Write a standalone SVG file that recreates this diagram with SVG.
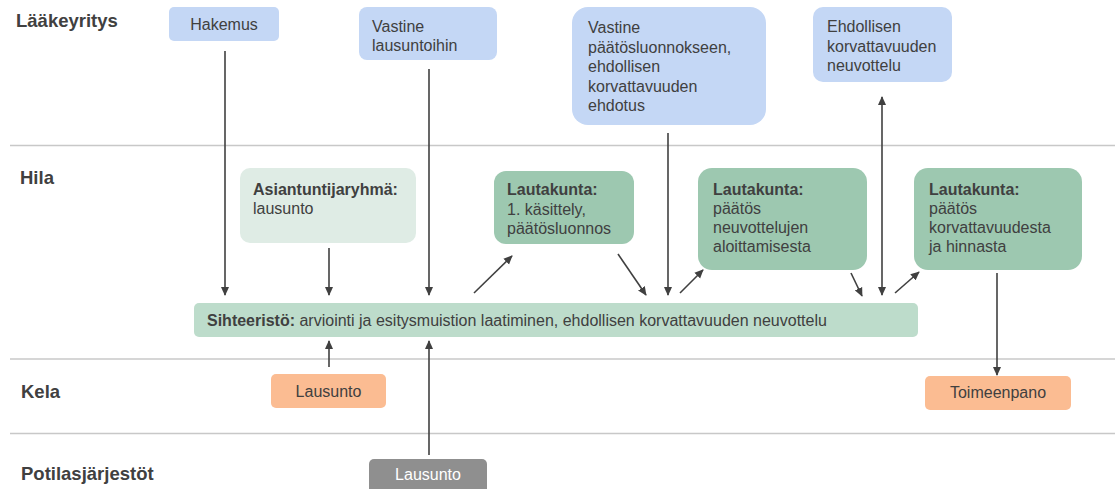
<svg xmlns="http://www.w3.org/2000/svg" width="1115" height="489" viewBox="0 0 1115 489">
<defs>
<style>
text{font-family:"Liberation Sans",Arial,sans-serif;font-size:16px;fill:#404040}
.lane{font-size:18.5px;font-weight:bold}
.b{font-weight:bold}
.mid{text-anchor:middle}
.sep{stroke:#c8c8c8;stroke-width:1.6;fill:none}
.blue{fill:#c4d7f5}
.lgreen{fill:#dfece5}
.green{fill:#9dc8b0}
.sih{fill:#bddccb}
.orange{fill:#fbbc92}
.gray{fill:#8f8f8f}
.white{fill:#ffffff}
.c{stroke:#404040;stroke-width:1.6;fill:none;marker-end:url(#ah)}
</style>
<marker id="ah" viewBox="0 0 10 10" refX="9" refY="5" markerWidth="9" markerHeight="9" markerUnits="userSpaceOnUse" orient="auto-start-reverse">
<path d="M0,0.5 L10,5 L0,9.5 z" fill="#404040"/>
</marker>
</defs>
<rect width="1115" height="489" fill="#ffffff"/>
<g id="lanes">
<line class="sep" x1="10" y1="145.5" x2="1115" y2="145.5"/>
<line class="sep" x1="10" y1="359" x2="1115" y2="359"/>
<line class="sep" x1="10" y1="433.5" x2="1115" y2="433.5"/>
<text class="lane" x="16" y="27">Lääkeyritys</text>
<text class="lane" x="20" y="184">Hila</text>
<text class="lane" x="21" y="398">Kela</text>
<text class="lane" x="21" y="480">Potilasjärjestöt</text>
</g>
<g id="connectors">
<line class="c" x1="225" y1="51" x2="225" y2="295"/>
<line class="c" x1="329" y1="248" x2="329" y2="295"/>
<line class="c" x1="429" y1="69" x2="429" y2="295"/>
<line class="c" x1="474" y1="293" x2="512" y2="256"/>
<line class="c" x1="618" y1="254" x2="646" y2="295"/>
<line class="c" x1="668" y1="133" x2="668" y2="295"/>
<line class="c" x1="680" y1="293" x2="703" y2="270"/>
<line class="c" x1="851" y1="273" x2="862" y2="296"/>
<line class="c" x1="882" y1="97" x2="882" y2="295" style="marker-start:url(#ah)"/>
<line class="c" x1="895" y1="293" x2="919" y2="272"/>
<line class="c" x1="997" y1="273" x2="997" y2="375"/>
<line class="c" x1="329" y1="367" x2="329" y2="341"/>
<line class="c" x1="429" y1="455" x2="429" y2="341"/>
</g>
<g id="hakemus">
<rect class="blue" x="169" y="7" width="110" height="34" rx="5"/>
<text class="mid" x="224" y="30">Hakemus</text>
</g>
<g id="vastine-lausuntoihin">
<rect class="blue" x="359" y="7" width="138" height="53" rx="8"/>
<text x="372" y="32">Vastine</text>
<text x="372" y="51">lausuntoihin</text>
</g>
<g id="vastine-paatosluonnokseen">
<rect class="blue" x="572" y="7" width="194" height="118" rx="16"/>
<text x="588" y="33">Vastine</text>
<text x="588" y="52.5">päätösluonnokseen,</text>
<text x="588" y="72">ehdollisen</text>
<text x="588" y="91.5">korvattavuuden</text>
<text x="588" y="111">ehdotus</text>
</g>
<g id="ehdollisen-neuvottelu">
<rect class="blue" x="813" y="7" width="139" height="75" rx="10"/>
<text x="827" y="32">Ehdollisen</text>
<text x="827" y="51.5">korvattavuuden</text>
<text x="827" y="71">neuvottelu</text>
</g>
<g id="asiantuntijaryhma">
<rect class="lgreen" x="240" y="168" width="176" height="75" rx="10"/>
<text class="b" x="253" y="195">Asiantuntijaryhmä:</text>
<text x="253" y="214">lausunto</text>
</g>
<g id="lautakunta-1">
<rect class="green" x="494" y="171" width="140" height="73" rx="12"/>
<text class="b" x="507" y="195">Lautakunta:</text>
<text x="507" y="214.5">1. käsittely,</text>
<text x="507" y="234">päätösluonnos</text>
</g>
<g id="lautakunta-2">
<rect class="green" x="698" y="168" width="169" height="102" rx="14"/>
<text class="b" x="713" y="195">Lautakunta:</text>
<text x="713" y="214">päätös</text>
<text x="713" y="233">neuvottelujen</text>
<text x="713" y="252">aloittamisesta</text>
</g>
<g id="lautakunta-3">
<rect class="green" x="914" y="168" width="168" height="102" rx="14"/>
<text class="b" x="929" y="195">Lautakunta:</text>
<text x="929" y="214">päätös</text>
<text x="929" y="233">korvattavuudesta</text>
<text x="929" y="252">ja hinnasta</text>
</g>
<g id="sihteeristo">
<rect class="sih" x="194" y="303" width="724" height="34" rx="5"/>
<text x="207" y="326"><tspan class="b">Sihteeristö:</tspan> arviointi ja esitysmuistion laatiminen, ehdollisen korvattavuuden neuvottelu</text>
</g>
<g id="kela-lausunto">
<rect class="orange" x="271" y="374" width="115" height="34" rx="5"/>
<text class="mid" x="328.5" y="397">Lausunto</text>
</g>
<g id="toimeenpano">
<rect class="orange" x="925" y="376" width="146" height="34" rx="5"/>
<text class="mid" x="998" y="398">Toimeenpano</text>
</g>
<g id="potilas-lausunto">
<rect class="gray" x="369" y="459" width="118" height="40" rx="5"/>
<text class="mid white" x="428" y="480">Lausunto</text>
</g>
</svg>
